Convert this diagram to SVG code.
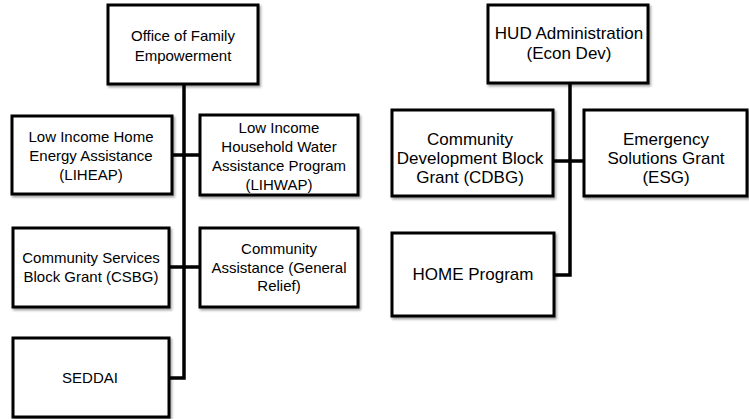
<svg xmlns="http://www.w3.org/2000/svg" width="749" height="419" viewBox="0 0 749 419">
<defs>
<filter id="sh" x="-10%" y="-10%" width="130%" height="130%">
<feDropShadow dx="1.5" dy="2" stdDeviation="1.2" flood-color="#000" flood-opacity="0.35"/>
</filter>
</defs>
<style>
.box{fill:#fff;stroke:#000;stroke-width:3;filter:url(#sh)}
.ln{fill:none;stroke:#000;stroke-width:3.5}
text{font-family:"Liberation Sans",Arial,sans-serif;fill:#000;text-anchor:middle}
.l{font-size:15px}
.r{font-size:17px}
</style>
<rect width="749" height="419" fill="#fff"/>
<g id="connectors">
<path class="ln" d="M184 84V378H169"/>
<path class="ln" d="M172 155H200"/>
<path class="ln" d="M169 267H200"/>
<path class="ln" d="M570 83V275H554"/>
<path class="ln" d="M553 161H584"/>
</g>
<g id="ofe">
<rect class="box" x="108" y="5" width="150" height="79"/>
<text class="l" x="183" y="41">Office of Family</text>
<text class="l" x="183" y="61">Empowerment</text>
</g>
<g id="liheap">
<rect class="box" x="12" y="116" width="160" height="78"/>
<text class="l" x="91" y="142">Low Income Home</text>
<text class="l" x="91" y="161">Energy Assistance</text>
<text class="l" x="91" y="180">(LIHEAP)</text>
</g>
<g id="lihwap">
<rect class="box" x="200" y="115" width="158" height="80"/>
<text class="l" x="279" y="133">Low Income</text>
<text class="l" x="279" y="152">Household Water</text>
<text class="l" x="279" y="171">Assistance Program</text>
<text class="l" x="279" y="190">(LIHWAP)</text>
</g>
<g id="csbg">
<rect class="box" x="13" y="228" width="156" height="79"/>
<text class="l" x="91" y="263">Community Services</text>
<text class="l" x="91" y="282">Block Grant (CSBG)</text>
</g>
<g id="general-relief">
<rect class="box" x="200" y="228" width="158" height="79"/>
<text class="l" x="279" y="254">Community</text>
<text class="l" x="279" y="273">Assistance (General</text>
<text class="l" x="279" y="291">Relief)</text>
</g>
<g id="seddai">
<rect class="box" x="13" y="338" width="156" height="79"/>
<text class="l" x="90" y="383">SEDDAI</text>
</g>
<g id="hud">
<rect class="box" x="488" y="5" width="160" height="78"/>
<text class="r" x="569" y="39">HUD Administration</text>
<text class="r" x="569" y="59">(Econ Dev)</text>
</g>
<g id="cdbg">
<rect class="box" x="392" y="110" width="161" height="86"/>
<text class="r" x="470" y="145">Community</text>
<text class="r" x="470" y="164">Development Block</text>
<text class="r" x="470" y="183">Grant (CDBG)</text>
</g>
<g id="esg">
<rect class="box" x="584" y="110" width="163" height="86"/>
<text class="r" x="666" y="145">Emergency</text>
<text class="r" x="666" y="164">Solutions Grant</text>
<text class="r" x="666" y="183">(ESG)</text>
</g>
<g id="home">
<rect class="box" x="392" y="233" width="162" height="83"/>
<text class="r" x="473" y="280">HOME Program</text>
</g>
</svg>
